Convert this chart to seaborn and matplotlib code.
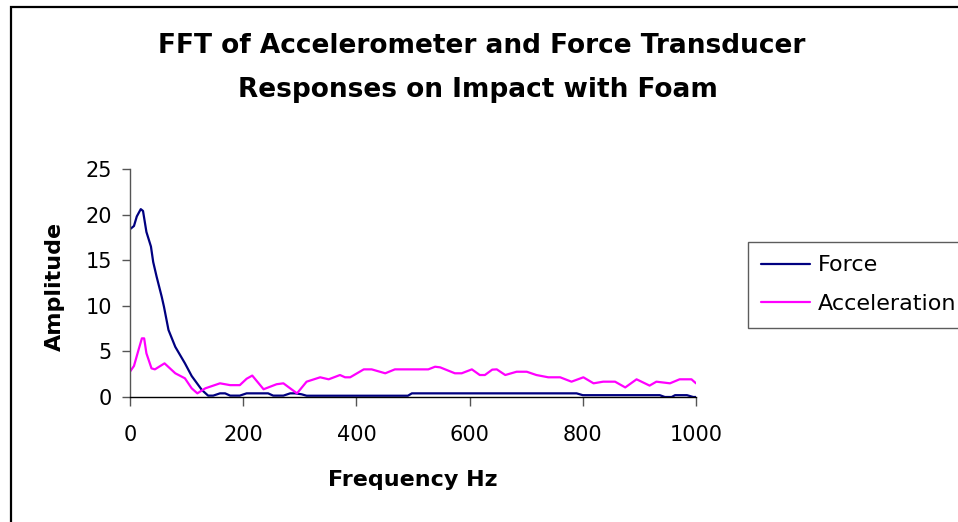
import matplotlib
matplotlib.use("Agg")
import matplotlib.pyplot as plt
import matplotlib.patches as mpatches
import seaborn as sns
import pandas as pd

# ---- data ----
force_freq = [0, 7, 12, 19, 23, 29, 37, 41, 47, 56, 60, 68, 80, 97, 109, 127, 138,
              147, 159, 168, 177, 194, 206, 244, 253, 271, 283, 292, 303, 312,
              491, 498, 789, 800, 936, 945, 957, 963, 984, 995, 1000]
force_amp = [18.4, 18.75, 19.8, 20.6, 20.4, 18.1, 16.5, 14.8, 13.2, 11.0, 9.9, 7.35, 5.5, 3.7, 2.3, 0.77, 0.15,
             0.15, 0.4, 0.4, 0.15, 0.15, 0.4, 0.4, 0.15, 0.15, 0.4, 0.4, 0.3, 0.14,
             0.14, 0.4, 0.4, 0.2, 0.2, 0.0, 0.0, 0.2, 0.2, 0.0, 0.0]

accel_freq = [0, 7, 15, 21, 25, 29, 38, 44, 61, 80, 97, 109, 119, 133, 159, 177, 194, 206, 216,
              236, 259, 271, 295, 300, 312, 336, 351, 371, 380, 389, 413, 427, 451, 468, 527,
              539, 548, 574, 586, 604, 618, 627, 640, 648, 663, 683, 701, 718, 739, 760, 780,
              801, 819, 836, 857, 875, 895, 918, 930, 954, 971, 992, 1000]
accel_amp = [2.78, 3.4, 5.15, 6.43, 6.43, 4.79, 3.14, 3.03, 3.69, 2.6, 2.05, 0.95, 0.4, 0.95, 1.5, 1.3, 1.3, 2.0, 2.35,
             0.85, 1.4, 1.5, 0.4, 0.77, 1.68, 2.16, 1.94, 2.41, 2.16, 2.16, 3.03, 3.03, 2.6, 3.03, 3.03,
             3.32, 3.25, 2.6, 2.6, 3.03, 2.41, 2.41, 3.0, 3.03, 2.41, 2.77, 2.77, 2.41, 2.16, 2.16, 1.68,
             2.16, 1.5, 1.68, 1.68, 1.05, 1.94, 1.25, 1.68, 1.5, 1.94, 1.94, 1.5]

series_names = ["Force", "Acceleration"]
series_colors = ["#000080", "#FF00FF"]
x_ticks = [0, 200, 400, 600, 800, 1000]
y_ticks = [0, 5, 10, 15, 20, 25]

title_lines = ["FFT of Accelerometer and Force Transducer",
               "Responses on Impact with Foam"]
x_label = "Frequency Hz"
y_label = "Amplitude"

df = pd.concat([
    pd.DataFrame({"freq": force_freq, "amp": force_amp, "series": series_names[0]}),
    pd.DataFrame({"freq": accel_freq, "amp": accel_amp, "series": series_names[1]}),
], ignore_index=True)

sns.set_theme(style="white")
plt.rcParams["font.family"] = ["DejaVu Sans"]
plt.rcParams["text.color"] = "black"
plt.rcParams["axes.labelcolor"] = "black"
plt.rcParams["xtick.color"] = "black"
plt.rcParams["ytick.color"] = "black"

W, H = 958, 522
fig = plt.figure(figsize=(W / 100, H / 100), dpi=100)
fig.patch.set_facecolor("white")

ax = fig.add_axes([130 / W, 1 - 397 / H, (696 - 130) / W, (397 - 169) / H])
sns.lineplot(data=df, x="freq", y="amp", hue="series", hue_order=series_names,
             palette=dict(zip(series_names, series_colors)), estimator=None,
             sort=False, linewidth=1.6, ax=ax)

ax.set_xlim(0, 1000)
ax.set_ylim(0, 25)
ax.set_xticks(x_ticks)
ax.set_yticks(y_ticks)
ax.set_xticklabels([str(v) for v in x_ticks])
ax.set_yticklabels([str(v) for v in y_ticks])
for s in ["top", "right"]:
    ax.spines[s].set_visible(False)
ax.spines["left"].set_color("#555555")
ax.spines["left"].set_linewidth(1.0)
ax.spines["bottom"].set_color("#000000")
ax.spines["bottom"].set_linewidth(1.0)
ax.tick_params(axis="y", direction="out", length=6, width=1, color="#555555",
               labelsize=15, pad=7, labelcolor="black", left=True)
ax.tick_params(axis="x", direction="out", length=6.5, width=1, color="#555555",
               labelsize=15, pad=14, labelcolor="black", bottom=True)

ax.set_xlabel(x_label, fontsize=16, fontweight="bold", color="black")
ax.set_ylabel(y_label, fontsize=16, fontweight="bold", color="black")
ax.xaxis.label.set_va("center")
ax.xaxis.set_label_coords(0.5, -(480 - 397) / 228)
ax.yaxis.label.set_va("center")
ax.yaxis.set_label_coords((55 - 130) / 566, (397 - 286) / 228)

fig.text(482 / W, 1 - 53 / H, title_lines[0], ha="center", va="baseline",
         fontsize=19, fontweight="bold", color="black")
fig.text(478 / W, 1 - 97 / H, title_lines[1], ha="center", va="baseline",
         fontsize=19, fontweight="bold", color="black")

leg = ax.legend(loc="upper left", bbox_to_anchor=(748 / W, 1 - 242 / H),
                bbox_transform=fig.transFigure, frameon=True, fancybox=False,
                fontsize=16, handlelength=2.2, handletextpad=0.35,
                labelspacing=0.85, borderpad=0.6, borderaxespad=0, title=None)
leg.get_frame().set_edgecolor("#333333")
leg.get_frame().set_linewidth(1.0)
for txt in leg.get_texts():
    txt.set_color("black")
for line in leg.get_lines():
    line.set_linewidth(1.6)

border = mpatches.Rectangle((11 / W, -0.1), 2.0, 1 - 7 / H + 0.1,
                            transform=fig.transFigure, fill=False,
                            edgecolor="black", linewidth=1.6, clip_on=False)
fig.add_artist(border)

fig.savefig("out.png", dpi=100)
